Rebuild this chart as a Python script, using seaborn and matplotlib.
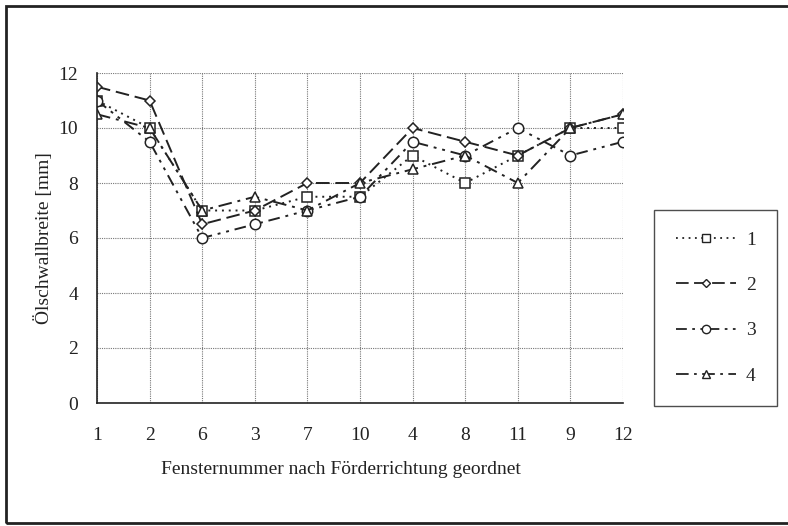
import numpy as np
import pandas as pd
import matplotlib
matplotlib.use("Agg")
import matplotlib.pyplot as plt
import seaborn as sns
from matplotlib.lines import Line2D
from matplotlib.patches import Rectangle

categories = ['1', '2', '6', '3', '7', '10', '4', '8', '11', '9', '12']
series_names = ['1', '2', '3', '4']
s1 = [11, 10, 7, 7, 7.5, 7.5, 9, 8, 9, 10, 10]
s2 = [11.5, 11, 6.5, 7, 8, 8, 10, 9.5, 9, 10, 10.5]
s3 = [11, 9.5, 6, 6.5, 7, 7.5, 9.5, 9, 10, 9, 9.5]
s4 = [10.5, 10, 7, 7.5, 7, 8, 8.5, 9, 8, 10, 10.5]
y_ticks = [0, 2, 4, 6, 8, 10, 12]

sns.set_theme(style="white")
plt.rcParams['font.family'] = ['Liberation Serif', 'DejaVu Serif']

fig = plt.figure(figsize=(7.88, 5.26), dpi=100)
ax = fig.add_axes([97/788, 1-403/526, (623-97)/788, (403-73)/526])

pos = np.arange(len(categories))
styles = [
    dict(linestyle=(0, (1, 2.5)), marker='s', ms=7),
    dict(linestyle=(0, (7, 3)), marker='D', ms=5),
    dict(linestyle=(0, (6, 3, 1.5, 3, 1.5, 3)), marker='o', ms=7.5),
    dict(linestyle=(0, (7, 3, 1.5, 3)), marker='^', ms=7),
]
for name, vals, st in zip(series_names, [s1, s2, s3, s4], styles):
    df = pd.DataFrame({'x': pos, 'y': vals})
    sns.lineplot(data=df, x='x', y='y', ax=ax, color='#222222', lw=1.4,
                 markerfacecolor='white', markeredgecolor='#222222',
                 markeredgewidth=1.1, label=name, legend=False, **st)

ax.set_xlim(0, len(categories) - 1)
ax.set_ylim(0, 12)
ax.set_xticks(pos)
ax.set_xticklabels(categories)
ax.set_yticks(y_ticks)
ax.grid(True, color='#777777', linestyle=(0, (1, 1)), linewidth=0.8)
for side in ['top', 'right']:
    ax.spines[side].set_visible(False)
for side in ['left', 'bottom']:
    ax.spines[side].set_color('#222222')
    ax.spines[side].set_linewidth(1.2)
ax.tick_params(axis='both', direction='inout', length=7, width=1.0,
               colors='#222222', labelsize=14, pad=14)
ax.tick_params(axis='y', pad=10)
ax.set_xlabel('Fensternummer nach Förderrichtung geordnet', fontsize=14,
              color='#222222')
ax.xaxis.set_label_coords((341 - 97) / 526, -(461 - 403) / 330)
ax.set_ylabel('Ölschwallbreite [mm]', fontsize=14, color='#222222', labelpad=4)

handles = [Line2D([0], [0], color='#222222', lw=1.3, markerfacecolor='white',
                  markeredgecolor='#222222', markeredgewidth=1.0,
                  **{**st, 'ms': st['ms'] * 0.8}) for st in styles]
leg = fig.legend(handles, series_names, loc='upper right',
                 bbox_to_anchor=(777/788, 1-210/526), frameon=True,
                 fontsize=14, handlelength=3.1, labelspacing=1.42,
                 borderpad=1.1, handletextpad=0.5, fancybox=False,
                 borderaxespad=0)
leg.get_frame().set_edgecolor('#222222')
leg.get_frame().set_linewidth(1.0)

fig.patches.append(Rectangle((6/788, 3/526), 790/788, 517/526, transform=fig.transFigure,
                             fill=False, edgecolor='#222222', linewidth=2.0))

fig.savefig('out.png', dpi=100)
